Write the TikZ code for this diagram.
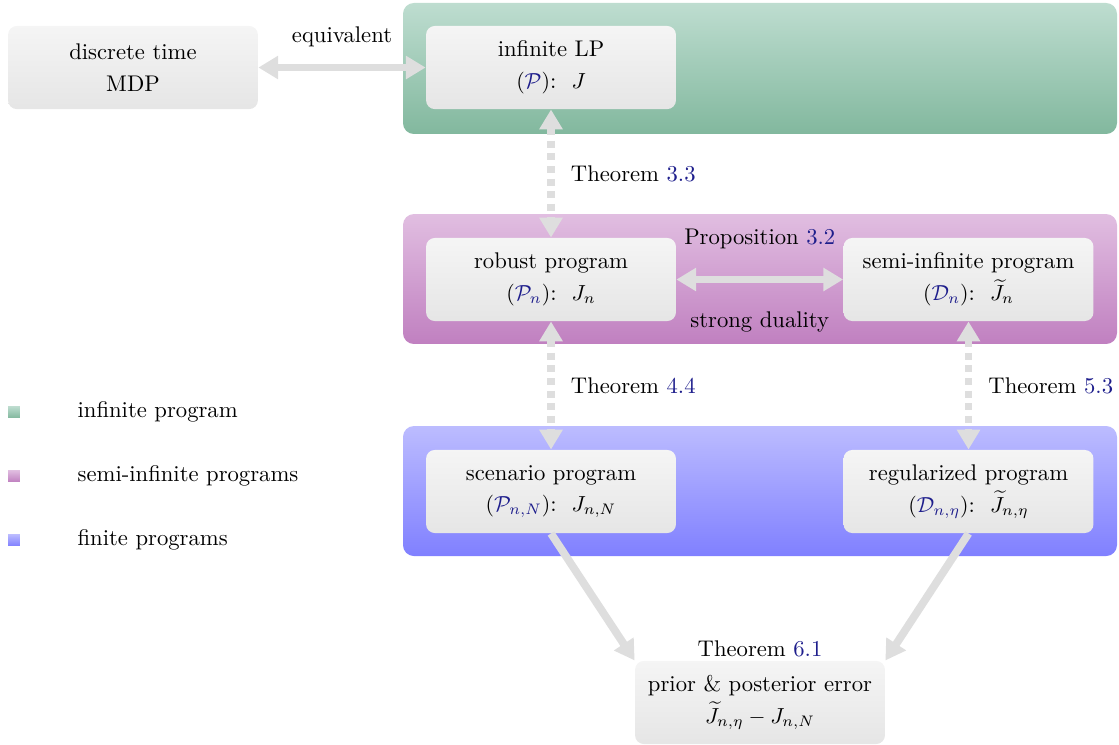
\documentclass[tikz,border=0pt]{standalone}
\usepackage{xcolor}
\usepackage{tikz}
\usetikzlibrary{positioning,arrows.meta}

\definecolor{refblue}{RGB}{30,30,140}
\definecolor{arrowgray}{RGB}{222,222,222}
\definecolor{greentop}{RGB}{190,221,208}
\definecolor{greenbot}{RGB}{130,184,158}
\definecolor{purpletop}{RGB}{225,190,225}
\definecolor{purplebot}{RGB}{192,128,192}
\definecolor{bluetop}{RGB}{188,188,255}
\definecolor{bluebot}{RGB}{128,128,255}

\begin{document}
\begin{tikzpicture}[
    every node/.style={font=\fontsize{10.4pt}{12.5pt}\selectfont},
    prognode/.style={rounded corners=4pt, top color=gray!8, bottom color=gray!20,
        minimum width=4.03cm, minimum height=1.34cm, align=center},
    band/.style={rounded corners=5pt},
    legendbox/.style={minimum size=0.19cm, inner sep=0pt},
    relarrow/.style={draw=arrowgray, line width=3.6pt,
        {Triangle[width=0.36cm,length=0.32cm]}-{Triangle[width=0.36cm,length=0.32cm]}},
    reldashed/.style={relarrow, dash pattern=on 3.2pt off 2.6pt},
    toarrow/.style={draw=arrowgray, line width=3.6pt, -{Triangle[width=0.36cm,length=0.32cm]}}
]
\useasboundingbox (0,0) rectangle (18.048,-12);

\shade[band, top color=greentop, bottom color=greenbot] (6.5,-0.048) rectangle (18.016,-2.161);
\shade[band, top color=purpletop, bottom color=purplebot] (6.5,-3.452) rectangle (18.016,-5.548);
\shade[band, top color=bluetop, bottom color=bluebot] (6.5,-6.871) rectangle (18.016,-8.968);

\node[prognode] (mdp) at (2.145,-1.089) {discrete time\\[2pt] MDP};
\node[prognode] (infinite_lp) at (8.887,-1.089)
    {infinite LP\\[2pt] $(\textcolor{refblue}{\mathcal{P}})$:\ \ $J$};
\node[prognode] (robust) at (8.887,-4.508)
    {robust program\\[2pt] $(\textcolor{refblue}{\mathcal{P}_n})$:\ \ $J_n$};
\node[prognode] (semi_infinite) at (15.621,-4.508)
    {semi-infinite program\\[2pt] $(\textcolor{refblue}{\mathcal{D}_n})$:\ \ $\widetilde{J}_n$};
\node[prognode] (scenario) at (8.887,-7.927)
    {scenario program\\[2pt] $(\textcolor{refblue}{\mathcal{P}_{n,N}})$:\ \ $J_{n,N}$};
\node[prognode] (regularized) at (15.621,-7.927)
    {regularized program\\[2pt] $(\textcolor{refblue}{\mathcal{D}_{n,\eta}})$:\ \ $\widetilde{J}_{n,\eta}$};
\node[prognode] (error) at (12.258,-11.33)
    {prior \& posterior error\\[2pt] $\widetilde{J}_{n,\eta}-J_{n,N}$};
\node[above=-2pt of error] (thm_error) {Theorem \textcolor{refblue}{6.1}};

\draw[relarrow] (mdp) -- (infinite_lp)
    node[midway, above=0.15cm] {equivalent};
\draw[reldashed] (infinite_lp) -- (robust)
    node[midway, right=4pt] {Theorem \textcolor{refblue}{3.3}};
\draw[relarrow] (robust) -- (semi_infinite)
    node[midway, above=0.32cm] {Proposition \textcolor{refblue}{3.2}}
    node[midway, below=0.34cm] {strong duality};
\draw[reldashed] (robust) -- (scenario)
    node[midway, right=4pt] {Theorem \textcolor{refblue}{4.4}};
\draw[reldashed] (semi_infinite) -- (regularized)
    node[midway, right=4pt] {Theorem \textcolor{refblue}{5.3}};
\draw[toarrow] (scenario.south) -- (error.north west);
\draw[toarrow] (regularized.south) -- (error.north east);

\node[legendbox, top color=greentop, bottom color=greenbot] (legend_inf) at (0.226,-6.645) {};
\node[legendbox, top color=purpletop, bottom color=purplebot] (legend_semi) at (0.226,-7.677) {};
\node[legendbox, top color=bluetop, bottom color=bluebot] (legend_fin) at (0.226,-8.71) {};
\node[right=0.8cm of legend_inf] (legend_inf_text) {infinite program};
\node[right=0.8cm of legend_semi] (legend_semi_text) {semi-infinite programs};
\node[right=0.8cm of legend_fin] (legend_fin_text) {finite programs};

\end{tikzpicture}
\end{document}
